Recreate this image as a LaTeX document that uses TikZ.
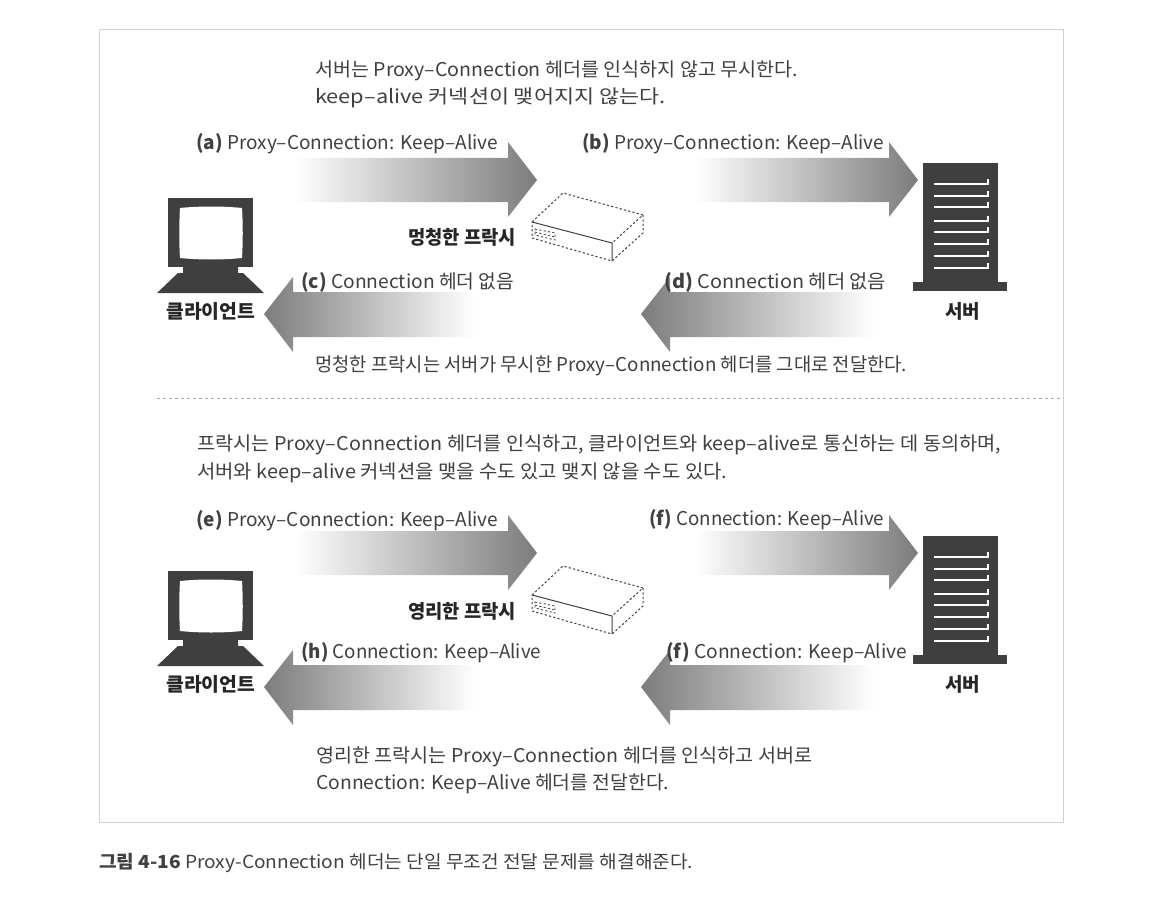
\documentclass[tikz,border=0pt]{standalone}
\usepackage{fontspec}
\usepackage{graphicx}
\setmainfont{Noto Sans CJK KR}
\definecolor{ink}{HTML}{404040}
\definecolor{dark}{HTML}{3F3F3F}
\definecolor{arrowend}{HTML}{7C7C7C}
\definecolor{framec}{HTML}{D2D2D2}
\newcommand\fitw[2]{\sbox0{#2}\pgfmathsetmacro\rr{#1/\the\wd0}\scalebox{\rr}[1]{\usebox0}}
\tikzset{
  x=1pt,y=-1pt,
  txt/.style={anchor=west,inner sep=0pt,yshift=-1.5pt,text=ink,font=\fontsize{19}{22}\selectfont,text height=14pt,text depth=3pt},
  lab/.style={txt,text=black!85,font=\fontsize{19}{22}\selectfont\bfseries},
  fade/.style={draw=none},
  solidpart/.style={draw=dark,line width=1pt},
  dashpart/.style={draw=dark,line width=1pt,dash pattern=on 2.2pt off 2.2pt},
  slot/.style={draw=white,line width=2.4pt},
}
\newcommand\rarrow[2]{% tail x, tip x
  \shade[left color=white,right color=arrowend,fade]
    (#1,158) -- (#2-29,158) -- (#2-29,142) -- (#2,180) -- (#2-29,217) -- (#2-29,202) -- (#1,202) -- cycle;}
\newcommand\larrow[2]{% tip x, tail x
  \shade[left color=arrowend,right color=white,fade]
    (#2,292) -- (#1+29,292) -- (#1+29,277) -- (#1,314) -- (#1+29,352) -- (#1+29,337) -- (#2,337) -- cycle;}
\newcommand\client{%
  \fill[dark] (168,198) rectangle (253,267);
  \fill[white] (180,208) .. controls (200,206) and (222,206) .. (242,208)
     .. controls (243,225) and (243,242) .. (242,258)
     .. controls (222,260) and (200,260) .. (180,258)
     .. controls (179,242) and (179,225) .. (180,208) -- cycle;
  \fill[dark] (183,267) -- (238,267) -- (238,273) -- (243,273) -- (264,293) -- (157,293) -- (178,273) -- (183,273) -- cycle;
}
\newcommand\server{%
  \fill[dark] (923,163) rectangle (998,282);
  \fill[dark] (913,282) rectangle (1007,291);
  \foreach \yy in {184,196,207,221,232,244,256,268}
    \draw[slot] (934,\yy) -- (988,\yy) -- (988,\yy-5);
}
\newcommand\proxybox{%
  \draw[dashpart] (532,222) -- (563,193) -- (643,215) -- (612,243);
  \draw[dashpart] (643,215) -- (643,233) -- (612,261) -- (532,238) -- (532,222);
  \draw[solidpart] (532,222) -- (612,243) -- (612,261);
  \draw[dashpart,line width=.8pt] (535,229) -- (555,233) -- (555,240) -- (535,235) -- cycle;
  \draw[dashpart,line width=.8pt] (535,232) -- (555,237);
}
\begin{document}
\begin{tikzpicture}
\useasboundingbox (0,0) rectangle (1158,904);
\fill[white] (0,0) rectangle (1158,904);
\draw[framec,line width=1pt] (99,30) rectangle (1063,822);
\draw[framec!80!black,line width=1pt,dash pattern=on 3pt off 3pt] (157,398) -- (1063,398);

% upper panel
\rarrow{295}{537}
\rarrow{695}{918}
\larrow{264}{475}
\larrow{641}{875}
\client
\server
\proxybox
% lower panel
\begin{scope}[yshift=-373pt]
\rarrow{295}{537}
\rarrow{695}{918}
\larrow{264}{475}
\larrow{641}{875}
\client
\server
\proxybox
\end{scope}

\node[txt] (t1) at (315,70) {\fitw{483}{서버는 Proxy–Connection 헤더를 인식하지 않고 무시한다.}};
\node[txt] (t2) at (315,97) {\fitw{350}{keep–alive 커넥션이 맺어지지 않는다.}};
\node[txt] (la) at (196,143) {\fitw{302}{\textbf{(a)} Proxy–Connection: Keep–Alive}};
\node[txt] (lb) at (582,143) {\fitw{302}{\textbf{(b)} Proxy–Connection: Keep–Alive}};
\node[lab] (p1) at (408,237) {\fitw{108}{멍청한 프락시}};
\node[txt] (lc) at (301,281) {\fitw{213}{\textbf{(c)} Connection 헤더 없음}};
\node[txt] (ld) at (664,281) {\fitw{222}{\textbf{(d)} Connection 헤더 없음}};
\node[lab] (c1) at (166,311) {\fitw{89}{클라이언트}};
\node[lab] (s1) at (945,311) {\fitw{35}{서버}};
\node[txt] (t3) at (315,364) {\fitw{592}{멍청한 프락시는 서버가 무시한 Proxy–Connection 헤더를 그대로 전달한다.}};

\node[txt] (t4) at (197,443) {\fitw{804}{프락시는 Proxy–Connection 헤더를 인식하고, 클라이언트와 keep–alive로 통신하는 데 동의하며,}};
\node[txt] (t5) at (197,471) {\fitw{530}{서버와 keep–alive 커넥션을 맺을 수도 있고 맺지 않을 수도 있다.}};
\node[txt] (le) at (196,519) {\fitw{302}{\textbf{(e)} Proxy–Connection: Keep–Alive}};
\node[txt] (lf) at (649,518) {\fitw{235}{\textbf{(f)} Connection: Keep–Alive}};
\node[lab] (p2) at (408,611) {\fitw{108}{영리한 프락시}};
\node[txt] (lh) at (301,651) {\fitw{240}{\textbf{(h)} Connection: Keep–Alive}};
\node[txt] (lg) at (666,651) {\fitw{241}{\textbf{(f)} Connection: Keep–Alive}};
\node[lab] (c2) at (166,684) {\fitw{89}{클라이언트}};
\node[lab] (s2) at (945,684) {\fitw{35}{서버}};
\node[txt] (t6) at (316,755) {\fitw{496}{영리한 프락시는 Proxy–Connection 헤더를 인식하고 서버로}};
\node[txt] (t7) at (316,782) {\fitw{353}{Connection: Keep–Alive 헤더를 전달한다.}};
\node[txt,font=\fontsize{18}{20}\selectfont] (cap) at (99,861) {\fitw{594}{\textbf{그림 4-16} Proxy-Connection 헤더는 단일 무조건 전달 문제를 해결해준다.}};
\end{tikzpicture}
\end{document}
